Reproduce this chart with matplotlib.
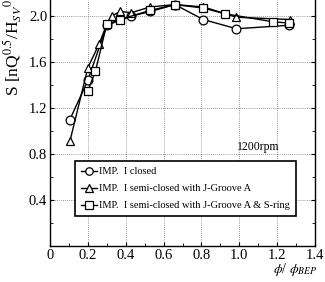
import matplotlib
matplotlib.use("Agg")
import matplotlib.pyplot as plt
from matplotlib.ticker import MultipleLocator

# IMP. I closed
x_closed = [0.105, 0.20, 0.30, 0.43, 0.53, 0.66, 0.81, 0.985, 1.26]
s_closed = [1.10, 1.44, 1.92, 2.00, 2.04, 2.10, 1.97, 1.89, 1.92]

# IMP. I semi-closed with J-Groove A
x_groove = [0.105, 0.20, 0.26, 0.30, 0.326, 0.37, 0.43, 0.53, 0.66, 0.81, 0.985, 1.27]
s_groove = [0.91, 1.55, 1.76, 1.93, 2.00, 2.04, 2.03, 2.08, 2.10, 2.08, 1.99, 1.97]

# IMP. I semi-closed with J-Groove A & S-ring
x_sring = [0.20, 0.24, 0.30, 0.37, 0.53, 0.66, 0.81, 0.925, 1.18, 1.26]
s_sring = [1.35, 1.52, 1.93, 1.97, 2.05, 2.10, 2.07, 2.02, 1.95, 1.94]

labels = ["IMP.  I closed",
          "IMP.  I semi-closed with J-Groove A",
          "IMP.  I semi-closed with J-Groove A & S-ring"]

plt.rcParams["font.family"] = ["Liberation Serif", "DejaVu Serif"]
plt.rcParams["mathtext.fontset"] = "stix"

fig = plt.figure(figsize=(3.25, 2.82), dpi=100)
ax = fig.add_axes([50 / 325, 36 / 282, 265 / 325, 246 / 282])

style = dict(color="black", lw=1.0, markerfacecolor="white", markeredgecolor="black",
             markersize=6.3, markeredgewidth=0.9, clip_on=False)
ax.plot(x_closed, s_closed, marker="o", label=labels[0], **style)
ax.plot(x_groove, s_groove, marker="^", label=labels[1], **style)
ax.plot(x_sring, s_sring, marker="s", label=labels[2], **style)

ax.set_xlim(0, 1.4)
ax.set_ylim(0, 2.14)
ax.xaxis.set_minor_locator(MultipleLocator(0.1))
ax.yaxis.set_minor_locator(MultipleLocator(0.2))
ax.set_xticks([0, 0.2, 0.4, 0.6, 0.8, 1.0, 1.2, 1.4])
ax.set_xticklabels(["0", "0.2", "0.4", "0.6", "0.8", "1.0", "1.2", "1.4"])
ax.set_yticks([0.4, 0.8, 1.2, 1.6, 2.0])
ax.set_yticklabels(["0.4", "0.8", "1.2", "1.6", "2.0"])
ax.tick_params(which="both", direction="in", right=True, labelsize=10.5, pad=2)
ax.tick_params(which="major", length=3)
ax.tick_params(which="minor", length=2)
ax.grid(True, which="major", color="#777777", linestyle=(0, (1, 1.5)), linewidth=0.6)
ax.spines["top"].set_visible(False)
for side in ("left", "bottom", "right"):
    ax.spines[side].set_linewidth(1.0)

ax.text(1.1, 0.86, "1200rpm", fontsize=8.5, ha="center", va="center")

# label runs off the top edge, as in the original figure
fig.text(12 / 325, 1 - 96 / 282, r"S [nQ$^{0.5}$/H$_{SV}$$^{0.75}$]", rotation=90,
         fontsize=12.5, ha="center", va="bottom")
fig.text(295 / 325, 1 - 270 / 282, r"$\phi$/ $\phi_{BEP}$", fontsize=10,
         ha="center", va="center")

leg = ax.legend(loc="upper left", bbox_to_anchor=(0.094, 0.345), fontsize=7.5,
                handlelength=1.6, handletextpad=0.2, borderpad=0.55,
                labelspacing=0.75, fancybox=False, framealpha=1, shadow=False,
                borderaxespad=0, markerscale=0.85)
leg.get_frame().set_edgecolor("black")
leg.get_frame().set_linewidth(1.2)

fig.savefig("out.png", dpi=100)
